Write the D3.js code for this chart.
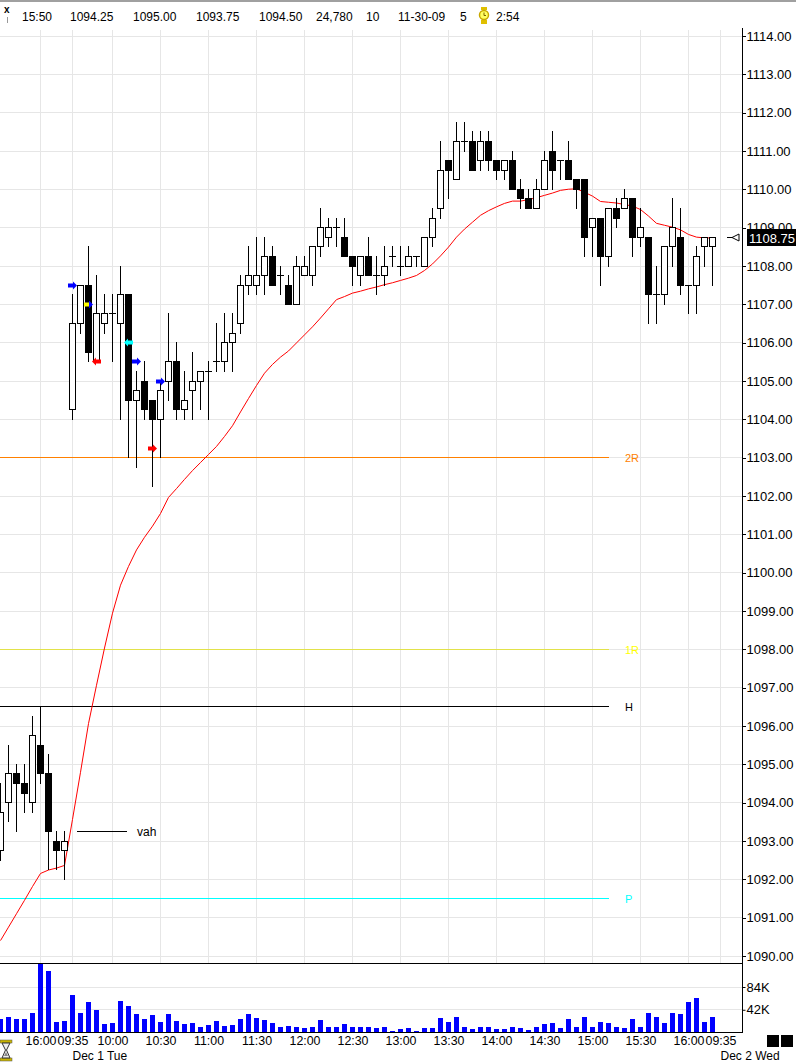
<!DOCTYPE html>
<html><head><meta charset="utf-8">
<script src="https://cdn.jsdelivr.net/npm/d3@7"></script>
<style>
body{margin:0;background:#fff}
svg{display:block}
text{font-family:"Liberation Sans",Arial,sans-serif}
</style>
</head><body>
<svg id="c" width="796" height="1062"></svg>
<script>
// ---------------- DATA ----------------
const times = ["15:35","15:40","15:45","15:50","15:55","16:00","16:05","16:10","16:15",
"09:35","09:40","09:45","09:50","09:55","10:00","10:05","10:10","10:15","10:20","10:25",
"10:30","10:35","10:40","10:45","10:50","10:55","11:00","11:05","11:10","11:15","11:20","11:25",
"11:30","11:35","11:40","11:45","11:50","11:55","12:00","12:05","12:10","12:15","12:20","12:25",
"12:30","12:35","12:40","12:45","12:50","12:55","13:00","13:05","13:10","13:15","13:20","13:25",
"13:30","13:35","13:40","13:45","13:50","13:55","14:00","14:05","14:10","14:15","14:20","14:25",
"14:30","14:35","14:40","14:45","14:50","14:55","15:00","15:05","15:10","15:15","15:20","15:25",
"15:30","15:35","15:40","15:45","15:50","15:55","16:00","16:05","16:10","16:15"];

const open = [1092.75,1094,1094.75,1094.5,1094,1095.5,1094.75,1093,1092.75,
1104.25,1106.5,1107.5,1105.5,1106.5,1106.75,1106.5,1107.25,1104.5,1105,1104.5,
1104,1105,1105.5,1104.25,1104.75,1105,1105.25,1105.5,1105.5,1106,1106.5,1107.5,
1107.5,1107.75,1108.25,1107.75,1107.5,1107,1107.75,1107.75,1108.5,1108.75,1109,1108.75,
1108.25,1107.75,1108.25,1107.75,1107.75,1108.25,1108,1108,1108.25,1108,1108.75,1109.5,
1110.75,1110.25,1111.25,1111.25,1110.75,1111.25,1110.75,1110.5,1110.75,1110,1109.75,1109.5,
1110,1111,1110.75,1110.75,1110.25,1110.25,1109,1109.25,1108.25,1109.5,1109.5,1109.75,
1108.75,1108.75,1107.25,1107.25,1108.5,1108.75,1107.5,1107.5,1108.5,1108.5];
const high = [1094.5,1095.5,1095,1095,1096.25,1096.5,1095.25,1093.25,1093.25,
1107.25,1107.5,1108.5,1107.75,1107.25,1107.25,1108,1107.25,1105.25,1105.5,1104.5,
1105,1106.75,1106,1105.25,1105.75,1105.25,1105.5,1106.5,1106.75,1106.75,1107.75,1108.5,
1108.75,1108.75,1108.5,1108,1107.75,1108.25,1108.25,1108.5,1109.5,1109.25,1109.25,1109.25,
1108.25,1108.25,1108.75,1108.25,1108.5,1108.5,1108.5,1108.5,1108.25,1108.75,1109.5,1111.25,
1110.75,1111.75,1111.75,1111.5,1111.5,1111.5,1110.75,1110.75,1111,1110.25,1110,1110.25,
1111,1111.5,1110.75,1111.25,1110.25,1110.25,1109.25,1109.25,1109.5,1109.75,1110,1109.75,
1109.5,1108.75,1108,1108.5,1109.75,1109.5,1107.5,1108.5,1108.75,1108.75];
const low = [1092.5,1093.5,1093.25,1093.75,1093.75,1094.5,1092.25,1092.25,1092,
1104,1106.25,1105.5,1105.5,1106.25,1105.5,1104,1103,1102.75,1104,1102.25,
1103,1104.5,1104,1104,1104,1104.25,1104,1105.25,1105.25,1105.25,1106.25,1107.25,
1107.25,1107.25,1107.5,1107.25,1107,1107,1107.75,1107.5,1108.25,1108.5,1108.5,1108.25,
1107.5,1107.5,1107.75,1107.25,1107.5,1108,1107.75,1108,1108,1108,1108.5,1109.25,
1109.75,1110.25,1111,1110.5,1110.5,1110.5,1110.25,1110.25,1110,1109.5,1109.5,1109.5,
1110,1110,1110.25,1110.25,1109.5,1108.25,1108.25,1107.5,1108,1109,1109.5,1108.25,
1108.5,1106.5,1106.5,1107,1108,1107.25,1106.75,1106.75,1108,1107.5];
const close = [1093.75,1094.75,1094.5,1094.25,1095.75,1094.75,1093.25,1092.75,1093,
1106.5,1107.5,1105.75,1106.75,1106.75,1106.75,1107.25,1104.5,1104.75,1104.25,1104,
1104.75,1105.5,1104.25,1104.5,1105,1105.25,1105.25,1105.5,1106,1106.25,1107.5,1107.75,
1107.75,1108.25,1107.5,1107.75,1107,1108,1108,1108.5,1109,1109,1109,1108.25,
1108,1108.25,1107.75,1107.75,1108,1108.25,1108,1108.25,1108.25,1108.75,1109.25,1110.5,
1110.5,1111.25,1111.25,1110.5,1111.25,1110.75,1110.5,1110.75,1110,1109.75,1109.5,1110,
1110.75,1110.5,1110.75,1110.25,1110,1108.75,1109.25,1108.25,1109.5,1109.25,1109.75,1108.75,
1109,1107.25,1107.25,1108.5,1109,1107.5,1107.5,1108.25,1108.75,1108.75];

const volume = [23500,27300,23500,24780,34800,127700,112700,17900,19800,
68700,34800,55500,40500,14100,16000,57400,48000,33000,23500,31100,
17900,33000,19800,14100,16000,8500,12200,19800,11000,12200,23500,33000,
25400,21700,16000,8500,11300,10000,6600,8500,21700,8500,8500,14100,
10000,8500,8500,6600,8500,1000,4700,6600,1000,6600,6600,25400,
17900,27300,8500,4700,8500,8500,4700,4700,8500,6600,2800,8500,
14100,16000,6600,23500,10000,27300,10000,17900,16000,8500,6600,23500,
8500,34800,27300,16000,34800,33000,55500,63100,17900,27300];

const movingAvg = [1090.39,1090.74,1091.09,1091.44,1091.80,1092.14,1092.23,1092.28,1092.35,
1093.55,1094.78,1096.05,1097.05,1098.02,1098.93,1099.66,1100.15,1100.58,1100.91,1101.20,
1101.53,1101.95,1102.18,1102.42,1102.65,1102.86,1103.07,1103.28,1103.54,1103.82,1104.18,1104.53,
1104.87,1105.19,1105.42,1105.61,1105.77,1105.98,1106.19,1106.40,1106.63,1106.87,1107.11,1107.19,
1107.28,1107.33,1107.39,1107.44,1107.50,1107.55,1107.61,1107.67,1107.74,1107.87,1108.04,1108.25,
1108.48,1108.74,1108.95,1109.13,1109.31,1109.43,1109.53,1109.62,1109.68,1109.68,1109.72,1109.77,
1109.83,1109.89,1109.96,1109.99,1110.00,1109.91,1109.81,1109.67,1109.65,1109.63,1109.59,1109.55,
1109.46,1109.29,1109.10,1109.05,1109.00,1108.93,1108.81,1108.74,1108.72,1108.72];

const priceTicks = [1090,1091,1092,1093,1094,1095,1096,1097,1098,1099,1100,1101,1102,
1103,1104,1105,1106,1107,1108,1109,1110,1111,1112,1113,1114];
const volumeTicks = [42000, 84000];
const timeTickIdx = [5,9,14,20,26,32,38,44,50,56,62,68,74,80,86,90];
const timeTickLabels = ["16:00","09:35","10:00","10:30","11:00","11:30","12:00","12:30",
"13:00","13:30","14:00","14:30","15:00","15:30","16:00","09:35"];
const dateIdx = [9, 90];
const dateLabels = ["Dec 1 Tue","Dec 2 Wed"];

const levelNames = ["2R","1R","H","P"];
const levelPrices = [1103, 1098, 1096.5, 1091.5];
const levelLineColors = ["#ff8000","#e2e24a","#000000","#00ffff"];
const levelTextColors = ["#ff8000","#ffff00","#000000","#00ffff"];
const vahPrice = 1093.25;

const arrowIdx = [9, 11, 12, 16, 17, 19, 20];
const arrowPrice = [1107.5, 1107.0, 1105.5, 1106.0, 1105.5, 1103.25, 1105.0];
const arrowDir = [1, 1, -1, -1, 1, 1, 1];
const arrowBody = ["#0000ff","#ffff00","#ff0000","#00ffff","#0000ff","#ff0000","#0000ff"];
const arrowHead = ["#0000ff","#0000ff","#ff0000","#00ffff","#0000ff","#ff0000","#0000ff"];

const headerTexts = ["15:50","1094.25","1095.00","1093.75","1094.50","24,780","10","11-30-09","5","2:54"];
const lastPrice = 1108.75;

// ---------------- LAYOUT ----------------
const svg = d3.select("#c");
const axisX = 742.5;
const plotTop = 30, priceBottom = 963.5, volBottom = 1032.5;
const headerX = [22, 70, 133, 196, 259, 316, 366, 398, 460, 496];

const x = d3.scaleLinear().domain([0, 90]).range([0.5, 720.5]);
const y = d3.scaleLinear().domain([1090, 1114]).range([955.5, 35.5]);
const yv = d3.scaleLinear().domain([0, 84000]).range([1032, 986.5]);
const cy = p => Math.round(y(p)) + 0.5;

svg.append("rect").attr("width",796).attr("height",1062).attr("fill","#fff");
svg.append("rect").attr("x",0).attr("y",0).attr("width",796).attr("height",2).attr("fill","#a0a0a0");

const defs = svg.append("defs");
defs.append("clipPath").attr("id","plotclip").append("rect")
  .attr("x",0).attr("y",plotTop).attr("width",axisX).attr("height",priceBottom-plotTop);
defs.append("clipPath").attr("id","volclip").append("rect")
  .attr("x",0).attr("y",priceBottom).attr("width",axisX).attr("height",volBottom-priceBottom);

// grid
const grid = svg.append("g").attr("stroke","#e6e6e6").attr("stroke-width",1).attr("shape-rendering","crispEdges");
grid.selectAll(".hg").data(priceTicks).join("line")
  .attr("x1",0).attr("x2",axisX).attr("y1",d=>cy(d)).attr("y2",d=>cy(d));
grid.selectAll(".vg").data(timeTickIdx).join("line")
  .attr("x1",d=>x(d)).attr("x2",d=>x(d)).attr("y1",plotTop).attr("y2",priceBottom);
grid.selectAll(".vvg").data(volumeTicks).join("line")
  .attr("x1",0).attr("x2",axisX).attr("y1",d=>Math.round(yv(d))+0.5).attr("y2",d=>Math.round(yv(d))+0.5);

const plot = svg.append("g").attr("clip-path","url(#plotclip)");

// level lines
const lv = plot.append("g");
levelPrices.forEach((p,k)=>{
  lv.append("line").attr("x1",0).attr("x2",609).attr("y1",cy(p)).attr("y2",cy(p))
    .attr("stroke",levelLineColors[k]).attr("stroke-width",1.2).attr("shape-rendering","crispEdges");
  lv.append("text").attr("x",625).attr("y",cy(p)+4).attr("font-size",11)
    .attr("fill",levelTextColors[k]).text(levelNames[k]);
});
lv.append("line").attr("x1",77).attr("x2",127).attr("y1",cy(vahPrice)).attr("y2",cy(vahPrice))
  .attr("stroke","#000").attr("stroke-width",1).attr("shape-rendering","crispEdges");
lv.append("text").attr("x",137).attr("y",cy(vahPrice)+4).attr("font-size",12).attr("fill","#000").text("vah");

// moving average
plot.append("path").datum(movingAvg)
  .attr("d", d3.line().x((d,i)=>x(i)).y(d=>y(d)))
  .attr("fill","none").attr("stroke","#ff0000").attr("stroke-width",1);

// candles
const cg = plot.append("g").attr("shape-rendering","crispEdges");
open.forEach((o,i)=>{
  const c = close[i], cx = x(i);
  cg.append("line").attr("x1",cx).attr("x2",cx)
    .attr("y1",Math.round(y(high[i]))).attr("y2",Math.round(y(low[i]))+1)
    .attr("stroke","#000").attr("stroke-width",1);
  if (o === c) {
    cg.append("line").attr("x1",cx-3.5).attr("x2",cx+3.5).attr("y1",cy(o)).attr("y2",cy(o))
      .attr("stroke","#000").attr("stroke-width",1);
  } else {
    const t = cy(Math.max(o,c)), b = cy(Math.min(o,c));
    cg.append("rect").attr("x",cx-3).attr("y",t).attr("width",6).attr("height",b-t)
      .attr("fill", c > o ? "#fff" : "#000").attr("stroke","#000").attr("stroke-width",1);
  }
});

// arrows
const ag = plot.append("g");
arrowIdx.forEach((i,k)=>{
  const cx = x(i), yy = cy(arrowPrice[k]), d = arrowDir[k];
  ag.append("rect").attr("x", d>0 ? cx-4.5 : cx-0.5).attr("y",yy-2).attr("width",5).attr("height",4)
    .attr("fill",arrowBody[k]);
  ag.append("path").attr("d", d>0
      ? `M${cx+0.5},${yy-4}L${cx+4.5},${yy}L${cx+0.5},${yy+4}Z`
      : `M${cx-0.5},${yy-4}L${cx-4.5},${yy}L${cx-0.5},${yy+4}Z`)
    .attr("fill",arrowHead[k]);
});

// volume bars
const vg = svg.append("g").attr("clip-path","url(#volclip)").attr("shape-rendering","crispEdges");
vg.selectAll("rect").data(volume).join("rect")
  .attr("x",(d,i)=>x(i)-2.5).attr("y",d=>Math.round(yv(d)))
  .attr("width",5).attr("height",d=>1032-Math.round(yv(d)))
  .attr("fill","#0000ff");

// frame lines
const fr = svg.append("g").attr("stroke","#000").attr("stroke-width",1).attr("shape-rendering","crispEdges");
fr.append("line").attr("x1",0).attr("x2",axisX).attr("y1",priceBottom).attr("y2",priceBottom);
fr.append("line").attr("x1",0).attr("x2",axisX).attr("y1",volBottom).attr("y2",volBottom);
fr.append("line").attr("x1",axisX).attr("x2",axisX).attr("y1",28).attr("y2",1033);

// price axis (1109 label sits partly behind the last-price box, as in the source)
const pa = svg.append("g").attr("transform",`translate(${axisX},0.5)`)
  .call(d3.axisRight(y).tickValues(priceTicks).tickFormat(d=>d.toFixed(2)).tickSize(3).tickPadding(1));
pa.select(".domain").remove();
pa.selectAll("text").attr("font-size",13).attr("font-family","Liberation Sans, Arial, sans-serif").attr("fill","#000");
pa.selectAll("line").attr("shape-rendering","crispEdges");

// volume axis
const va = svg.append("g").attr("transform",`translate(${axisX},0.5)`)
  .call(d3.axisRight(yv).tickValues(volumeTicks).tickFormat(d=>(d/1000)+"K").tickSize(3).tickPadding(1));
va.select(".domain").remove();
va.selectAll("text").attr("font-size",13).attr("font-family","Liberation Sans, Arial, sans-serif").attr("fill","#000");

// time axis
const ta = svg.append("g").attr("transform",`translate(0,${volBottom})`)
  .call(d3.axisBottom(x).tickValues(timeTickIdx).tickFormat((d,k)=>timeTickLabels[k]).tickSize(0).tickPadding(4));
ta.select(".domain").remove();
ta.selectAll("text").attr("font-size",12.4).attr("font-family","Liberation Sans, Arial, sans-serif").attr("fill","#000");

dateIdx.forEach((i,k)=>{
  svg.append("text").attr("x",x(i)).attr("y",1059.5).attr("font-size",12).attr("fill","#000").text(dateLabels[k]);
});

// current price marker
svg.append("rect").attr("x",747).attr("y",229).attr("width",49).attr("height",17).attr("fill","#000");
svg.append("text").attr("x",749).attr("y",cy(lastPrice)+5).attr("font-size",13).attr("fill","#fff")
  .text(lastPrice.toFixed(2));
const my = cy(lastPrice);
svg.append("line").attr("x1",727).attr("x2",732).attr("y1",my).attr("y2",my).attr("stroke","#000").attr("shape-rendering","crispEdges");
svg.append("path").attr("d",`M732,${my}L739,${my-3.5}L739,${my+3.5}Z`).attr("fill","#fff").attr("stroke","#000").attr("stroke-width",1);

// header
svg.append("text").attr("x",4).attr("y",13).attr("font-size",10).attr("font-weight","bold").text("x");
svg.append("line").attr("x1",7.5).attr("x2",7.5).attr("y1",17).attr("y2",23).attr("stroke","#999");
headerTexts.forEach((t,k)=>{
  svg.append("text").attr("x",headerX[k]).attr("y",21).attr("font-size",12).attr("fill","#000").text(t);
});
const ck = svg.append("g");
ck.append("rect").attr("x",481).attr("y",7).attr("width",6).attr("height",3).attr("fill","#e0c000");
ck.append("rect").attr("x",481).attr("y",20).attr("width",6).attr("height",4).attr("fill","#e0c000");
ck.append("circle").attr("cx",484).attr("cy",15).attr("r",4.5).attr("fill","#ffff60").attr("stroke","#c8a800").attr("stroke-width",1.5);
ck.append("path").attr("d","M484,12.5V15.5H486").attr("stroke","#806000").attr("fill","none");

// hourglass icon
const hg = svg.append("g");
hg.append("rect").attr("x",0).attr("y",1040).attr("width",12).attr("height",3).attr("fill","#c8b400").attr("stroke","#555").attr("stroke-width",0.5);
hg.append("rect").attr("x",0).attr("y",1058).attr("width",12).attr("height",3).attr("fill","#c8b400").attr("stroke","#555").attr("stroke-width",0.5);
hg.append("path").attr("d","M2,1043L10,1043L6.5,1050L10,1058L2,1058L5.5,1050Z").attr("fill","#eee").attr("stroke","#333").attr("stroke-width",1);
hg.append("path").attr("d","M4,1056L8,1056L6,1052Z").attr("fill","#888");

// bottom right squares
svg.append("rect").attr("x",767).attr("y",1035).attr("width",12).attr("height",12).attr("fill","#000");
svg.append("rect").attr("x",781).attr("y",1035).attr("width",12).attr("height",12).attr("fill","#000");
</script>
</body></html>
